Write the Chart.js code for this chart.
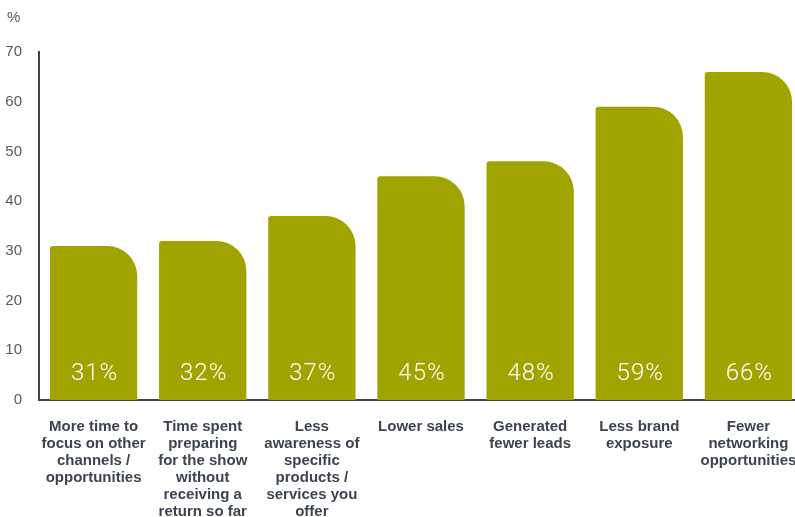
<!DOCTYPE html>
<html>
<head>
<meta charset="utf-8">
<script src="https://cdn.jsdelivr.net/npm/chart.js@4"></script>
<style>
    html, body { margin: 0; padding: 0; background: #fff; overflow: hidden; }
    #wrap { width: 803px; height: 517px; }
</style>
</head>
<body>
<div id="wrap"><canvas id="chart" width="803" height="517"></canvas></div>
<script>
// Reasons cited, share of respondents (%)
const categories = [
    ['More time to', 'focus on other', 'channels /', 'opportunities'],
    ['Time spent', 'preparing', 'for the show', 'without', 'receiving a', 'return so far'],
    ['Less', 'awareness of', 'specific', 'products /', 'services you', 'offer'],
    ['Lower sales'],
    ['Generated', 'fewer leads'],
    ['Less brand', 'exposure'],
    ['Fewer', 'networking', 'opportunities']
];
const values = [31, 32, 37, 45, 48, 59, 66];
const yTicks = [0, 10, 20, 30, 40, 50, 60, 70];

const olive = '#a1a400';
const ink = '#3d4451';

// Writes the percentage inside each bar and the unit above the axis
const barLabels = {
    id: 'barLabels',
    afterDatasetsDraw(chart) {
        const ctx = chart.ctx;
        const meta = chart.getDatasetMeta(0);
        const yScale = chart.scales.y;
        ctx.save();
        ctx.fillStyle = '#ffffff';
        ctx.font = '300 24px Roboto, "Liberation Sans", sans-serif';
        ctx.letterSpacing = '1px';
        ctx.textAlign = 'center';
        ctx.textBaseline = 'middle';
        meta.data.forEach((bar, i) => {
            ctx.fillText(values[i] + '%', bar.x + 1, yScale.getPixelForValue(0) - 26);
        });
        ctx.letterSpacing = '0px';
        ctx.fillStyle = '#555a63';
        ctx.font = '15px "Liberation Sans", sans-serif';
        ctx.textAlign = 'left';
        ctx.fillText('%', 7, 18);
        ctx.restore();
    }
};

new Chart(document.getElementById('chart').getContext('2d'), {
    type: 'bar',
    data: {
        labels: categories,
        datasets: [{
            data: values,
            backgroundColor: olive,
            borderWidth: 0,
            borderSkipped: 'start',
            borderRadius: { topLeft: 3, topRight: 30, bottomLeft: 0, bottomRight: 0 },
            barPercentage: 0.8,
            categoryPercentage: 1
        }]
    },
    options: {
        responsive: false,
        animation: false,
        layout: { padding: { top: 52, right: 0, left: 0, bottom: 0 } },
        plugins: {
            legend: { display: false },
            tooltip: { enabled: false }
        },
        scales: {
            x: {
                grid: { display: false, drawTicks: false },
                border: { display: true, color: ink, width: 2 },
                ticks: {
                    color: ink,
                    font: { family: '"Liberation Sans", Arial, sans-serif', size: 15, weight: 'bold', lineHeight: '17px' },
                    padding: 18,
                    maxRotation: 0,
                    autoSkip: false
                },
                afterFit(scale) {
                    scale.height = 117;
                    scale.paddingLeft = 0;
                    scale.paddingRight = 0;
                }
            },
            y: {
                min: 0,
                max: 70,
                afterBuildTicks(scale) { scale.ticks = yTicks.map(v => ({ value: v })); },
                grid: { display: false, drawTicks: false },
                border: { display: true, color: ink, width: 2 },
                ticks: {
                    color: '#555a63',
                    font: { family: '"Liberation Sans", Arial, sans-serif', size: 15 },
                    padding: 17
                },
                afterFit(scale) { scale.width = 39; }
            }
        }
    },
    plugins: [barLabels]
});
</script>
</body>
</html>
